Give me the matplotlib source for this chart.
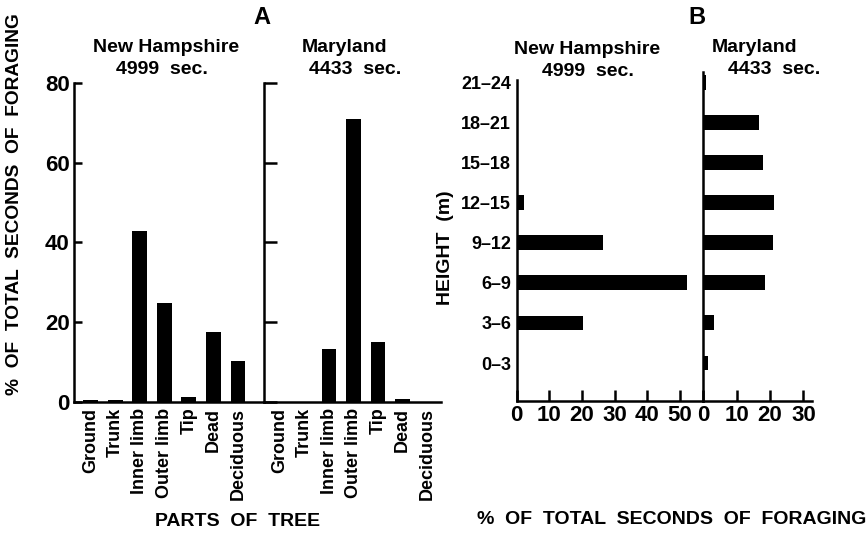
import numpy as np
import matplotlib as mpl
mpl.use('Agg')
import matplotlib.pyplot as plt

plt.rcParams['font.family'] = ['Liberation Sans', 'DejaVu Sans']
plt.rcParams['font.weight'] = 'bold'

# A: parts of tree, % of foraging seconds
parts = ['Ground', 'Trunk', 'Inner limb', 'Outer limb', 'Tip', 'Dead', 'Deciduous']
nh_parts = [0.4, 0.6, 42.9, 24.7, 1.3, 17.6, 10.3]
md_parts = [0.0, 0.0, 13.2, 70.8, 15.1, 0.75, 0.0]

# B: height classes, % of foraging seconds
heights = ['0\u20133', '3\u20136', '6\u20139', '9\u201312', '12\u201315',
           '15\u201318', '18\u201321', '21\u201324']
nh_height = [0, 20.3, 52.2, 26.5, 2.1, 0, 0, 0]
md_height = [1.5, 3.2, 18.5, 20.8, 21.2, 18.0, 16.8, 0.8]

W, H = 867, 534
fig = plt.figure(figsize=(W / 100, H / 100), dpi=100)


def box(x0, y0, x1, y1):
    # pixel box, origin top-left -> figure fraction
    return [x0 / W, 1 - y1 / H, (x1 - x0) / W, (y1 - y0) / H]


lw = 1.8

def style(ax, keep):
    for s in ['left', 'right', 'top', 'bottom']:
        ax.spines[s].set_visible(s in keep)
        ax.spines[s].set_linewidth(lw)
        ax.spines[s].set_color('black')


# ---- panel A ----
xa = np.arange(len(parts))
ax1 = fig.add_axes(box(74, 82.7, 263.5, 402))
ax1.bar(xa, nh_parts, width=0.61, color='black')
ax1.set_xlim(-0.69, 7.04)
ax1.set_ylim(0, 80)
ax1.set_yticks([0, 20, 40, 60, 80])
style(ax1, ['left', 'bottom'])
ax1.tick_params(axis='y', direction='in', length=6, width=lw, labelsize=16, pad=3)
ax1.set_xticks(xa)
ax1.set_xticklabels(parts, rotation=90, fontsize=13, va='top')
ax1.tick_params(axis='x', length=0, pad=4)

ax2 = fig.add_axes(box(263.5, 82.7, 441, 402))
ax2.bar(xa, md_parts, width=0.61, color='black')
ax2.set_xlim(-0.673, 6.57)
ax2.set_ylim(0, 80)
ax2.set_yticks([0, 20, 40, 60, 80])
style(ax2, ['left', 'bottom'])
ax2.tick_params(axis='y', direction='in', length=9, width=lw, labelleft=False)
ax2.set_xticks(xa)
ax2.set_xticklabels(parts, rotation=90, fontsize=13, va='top')
ax2.tick_params(axis='x', length=0, pad=4)

fig.text(15 / W, 1 - 204 / H, '%  OF  TOTAL  SECONDS  OF  FORAGING', rotation=90,
         ha='center', va='center', fontsize=13.8)
fig.text(262 / W, 1 - 18 / H, 'A', ha='center', va='center', fontsize=17)
fig.text(166 / W, 1 - 48 / H, 'New Hampshire', ha='center', va='center', fontsize=14)
fig.text(162 / W, 1 - 70 / H, '4999  sec.', ha='center', va='center', fontsize=14)
fig.text(345 / W, 1 - 48 / H, 'Maryland', ha='center', va='center', fontsize=14)
fig.text(355 / W, 1 - 70 / H, '4433  sec.', ha='center', va='center', fontsize=14)
fig.text(238 / W, 1 - 522 / H, 'PARTS  OF  TREE', ha='center', va='center', fontsize=14)

# ---- panel B ----
yb = np.arange(len(heights))
ax3 = fig.add_axes(box(516.7, 80, 703.3, 400.7))
ax3.barh(yb, nh_height, height=0.37, color='black')
ax3.set_xlim(0, 57.2)
ax3.set_ylim(-0.94, 7.06)
style(ax3, ['left', 'bottom'])
ax3.set_xticks([0, 10, 20, 30, 40, 50])
ax3.tick_params(axis='x', direction='in', length=8, width=lw, labelsize=16, pad=3)
ax3.set_yticks(yb)
ax3.set_yticklabels(heights, fontsize=13)
ax3.tick_params(axis='y', length=0, pad=4)

ax4 = fig.add_axes(box(703.3, 71.7, 811.7, 400.7))
ax4.barh(yb, md_height, height=0.37, color='black')
ax4.set_xlim(0, 32.5)
ax4.set_ylim(-0.94, 7.26)
style(ax4, ['left', 'bottom'])
ax4.set_xticks([0, 10, 20, 30])
ax4.tick_params(axis='x', direction='in', length=8, width=lw, labelsize=16, pad=3)
ax4.set_yticks([])

fig.text(445 / W, 1 - 248 / H, 'HEIGHT  (m)', rotation=90, ha='center', va='center',
         fontsize=14)
fig.text(697 / W, 1 - 18 / H, 'B', ha='center', va='center', fontsize=17)
fig.text(587 / W, 1 - 50 / H, 'New Hampshire', ha='center', va='center', fontsize=14)
fig.text(588 / W, 1 - 71 / H, '4999  sec.', ha='center', va='center', fontsize=14)
fig.text(755 / W, 1 - 48 / H, 'Maryland', ha='center', va='center', fontsize=14)
fig.text(774 / W, 1 - 70 / H, '4433  sec.', ha='center', va='center', fontsize=14)
fig.text(672 / W, 1 - 519 / H, '%  OF  TOTAL  SECONDS  OF  FORAGING', ha='center',
         va='center', fontsize=14)

fig.savefig('out.png', dpi=100)
